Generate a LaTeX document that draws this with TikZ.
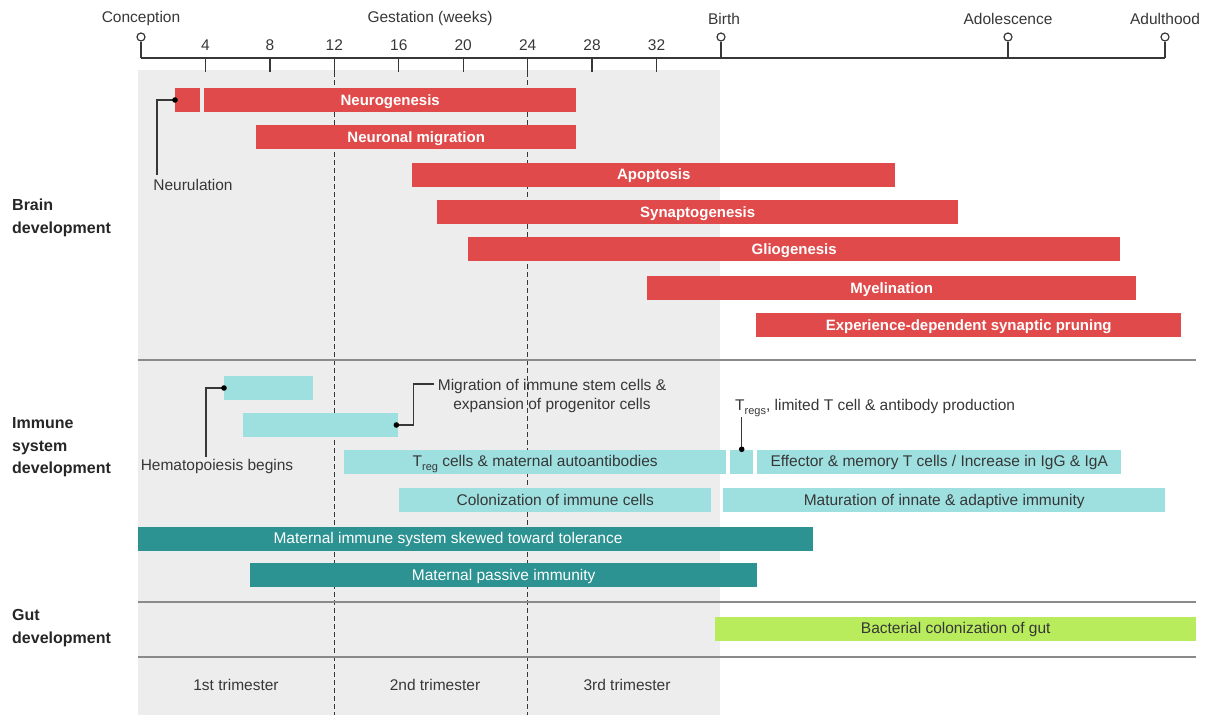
\documentclass[tikz,border=0pt]{standalone}
\usepackage{fontspec}
\setmainfont{Liberation Sans}

\definecolor{brainred}{RGB}{224,74,74}
\definecolor{immlight}{RGB}{158,224,224}
\definecolor{immteal}{RGB}{44,146,146}
\definecolor{gutgreen}{RGB}{184,236,92}
\definecolor{bggray}{RGB}{237,237,237}
\definecolor{rulegray}{RGB}{138,138,138}
\definecolor{inkgray}{RGB}{55,55,55}

\newcommand{\lowtxt}[1]{\raisebox{-0.45ex}{\fontsize{11}{11}\selectfont #1}}

\tikzset{
  txt/.style={inkgray, inner sep=0pt, font=\fontsize{15.5}{19}\selectfont},
  bar/.style={anchor=west, minimum height=24pt, inner sep=0pt, text height=12pt, text depth=2pt},
  redbar/.style={bar, fill=brainred, text=white, font=\fontsize{15}{18}\selectfont\bfseries},
  lightbar/.style={bar, fill=immlight, text=inkgray, font=\fontsize{15.5}{18}\selectfont},
  tealbar/.style={bar, fill=immteal, text=white, font=\fontsize{15.5}{18}\selectfont},
  gutbar/.style={bar, fill=gutgreen, text=inkgray, font=\fontsize{15.5}{18}\selectfont},
  ring/.style={circle, draw=inkgray, fill=white, line width=1.2pt, minimum size=8pt, inner sep=0pt},
  section/.style={anchor=west, align=left, inner sep=0pt, text=black!85, font=\fontsize{16}{22.5}\selectfont\bfseries},
  callout/.style={inkgray, line width=1.2pt},
  trimline/.style={inkgray, dashed, dash pattern=on 5pt off 3pt, line width=0.8pt}
}

\begin{document}
\begin{tikzpicture}[x=1pt, y=-1pt]
    \useasboundingbox (0,0) rectangle (1211,715);
    \fill[bggray] (138,70) rectangle (720,715);

    \coordinate (axl) at (141,58);
    \coordinate (axr) at (1165,58);
    \draw[inkgray, line width=1.3pt] (axl) -- (axr);
    \foreach \w in {4,8,...,32} {
        \coordinate (tk\w) at ({141+\w*16.11},58);
        \draw[inkgray, line width=1.3pt] (tk\w) -- ++(0,14);
        \node[txt] (wk\w) at ({141+\w*16.11},45) {\w};
    }
    \draw[trimline] (tk12) ++(0,14) -- ++(0,643);
    \draw[trimline] (tk24) ++(0,14) -- ++(0,643);

    \node[ring] (conc) at (141,37) {};
    \node[ring] (birth) at (721,37) {};
    \node[ring] (adol) at (1008,37) {};
    \node[ring] (adult) at (1165,37) {};
    \foreach \m in {conc,birth,adol,adult}
        \draw[inkgray, line width=1.3pt] (\m.south) -- (\m |- axl);
    \node[txt] (conclbl) at (141,18.5) {Conception};
    \node[txt] (gestlbl) at (430,18.5) {Gestation (weeks)};
    \node[txt] (birthlbl) at (724,18.5) {Birth};
    \node[txt] (adollbl) at (1008,18.5) {Adolescence};
    \node[txt] (adultlbl) at (1165,18.5) {Adulthood};

    \draw[rulegray, line width=2pt] (138,360) -- (1196,360);
    \draw[rulegray, line width=2pt] (138,602) -- (1196,602);
    \draw[rulegray, line width=2pt] (138,657) -- (1196,657);

    \node[section] (brainsec) at (12,218) {Brain\\development};
    \node[section] (immsec) at (12,447.5) {Immune\\system\\development};
    \node[section] (gutsec) at (12,628) {Gut\\development};

    \node[redbar, minimum width=25pt] (neurula) at (175,100) {};
    \node[redbar, minimum width=372pt] (neurogen) at (204,100) {Neurogenesis};
    \node[redbar, minimum width=320pt] (migration) at (256,137) {Neuronal migration};
    \node[redbar, minimum width=483pt] (apoptosis) at (412,174.5) {Apoptosis};
    \node[redbar, minimum width=521pt] (synapto) at (437,212) {Synaptogenesis};
    \node[redbar, minimum width=652pt] (glio) at (468,249) {Gliogenesis};
    \node[redbar, minimum width=489pt] (myelin) at (647,288) {Myelination};
    \node[redbar, minimum width=425pt] (pruning) at (756,325) {Experience-dependent synaptic pruning};

    \node[txt] (neurulalbl) at (193,184.5) {Neurulation};
    \coordinate (nbend) at (157,175);
    \draw[callout] (neurula.west) -| (nbend);
    \fill[black] (neurula.west) circle (2.8);

    \node[lightbar, minimum width=89pt] (hema1) at (224,388) {};
    \node[lightbar, minimum width=155pt] (hema2) at (243,425) {};
    \node[lightbar, minimum width=382pt] (tregmat) at (344,461.5) {T\lowtxt{reg} cells \& maternal autoantibodies};
    \node[lightbar, minimum width=23pt] (tregsmall) at (730,461.5) {};
    \node[lightbar, minimum width=364pt] (effector) at (757,461.5) {Effector \& memory T cells / Increase in IgG \& IgA};
    \node[lightbar, minimum width=312pt] (colon) at (399,500) {Colonization of immune cells};
    \node[lightbar, minimum width=442pt] (maturation) at (723,500) {Maturation of innate \& adaptive immunity};

    \node[txt] (hemalbl) at (217,466) {Hematopoiesis begins};
    \coordinate (hbend) at (206,457);
    \draw[callout] (hema1.west) -| (hbend);
    \fill[black] (hema1.west) circle (2.8);

    \node[txt, align=center] (miglbl) at (552,396) {Migration of immune stem cells \&\\expansion of progenitor cells};
    \coordinate (mbend) at (434,384);
    \draw[callout] ([xshift=-2pt]hema2.east) -- ++(17,0) |- (mbend);
    \fill[black] ([xshift=-2pt]hema2.east) circle (2.8);

    \node[txt, anchor=west] (tregslbl) at (735,408) {T\lowtxt{regs}, limited T cell \& antibody production};
    \draw[callout] (tregsmall.north) -- (tregsmall.north |- tregslbl.south);
    \fill[black] (tregsmall.north) circle (2.8);

    \node[tealbar, minimum width=675pt] (tolerance) at (138,538.5) {};
    \node[txt, text=white, text height=12pt, text depth=2pt] (tolerlbl) at (448,538.5) {Maternal immune system skewed toward tolerance};
    \node[tealbar, minimum width=507pt] (passive) at (250,575) {Maternal passive immunity};

    \node[gutbar, minimum width=481pt] (gutcol) at (715,628.5) {Bacterial colonization of gut};

    \node[txt] (tri1) at (236,685) {1st trimester};
    \node[txt] (tri2) at (435,685) {2nd trimester};
    \node[txt] (tri3) at (627,685) {3rd trimester};
\end{tikzpicture}
\end{document}
